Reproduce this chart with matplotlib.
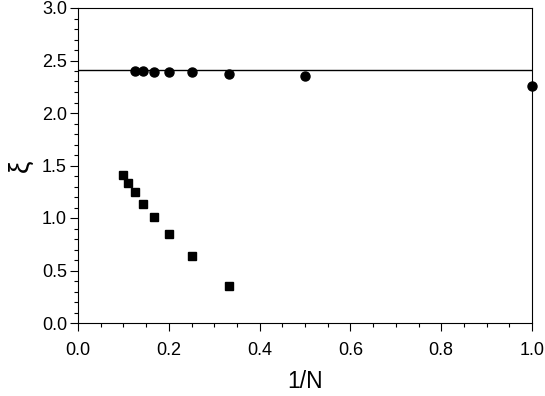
import matplotlib
matplotlib.use("Agg")
import matplotlib.pyplot as plt
from matplotlib.ticker import MultipleLocator

plt.rcParams['font.family'] = ['Liberation Sans', 'DejaVu Sans']

circ_x = [1/1, 1/2, 1/3, 1/4, 1/5, 1/6, 1/7, 1/8]
circ_y = [2.257, 2.357, 2.367, 2.386, 2.39, 2.395, 2.397, 2.40]
sq_x = [1/3, 1/4, 1/5, 1/6, 1/7, 1/8, 1/9, 1/10]
sq_y = [0.352, 0.638, 0.843, 1.01, 1.138, 1.248, 1.333, 1.41]
hline_y = 2.41

fig = plt.figure(figsize=(5.45, 3.96), dpi=100)
ax = fig.add_axes([78/545, 1-323/396, (532-78)/545, (323-8)/396])
ax.axhline(hline_y, color='black', lw=1.0)
ax.plot(circ_x, circ_y, 'o', color='black', ms=6.5, clip_on=False, zorder=3)
ax.plot(sq_x, sq_y, 's', color='black', ms=5.7, clip_on=False, zorder=3)
ax.set_xlim(0, 1.0)
ax.set_ylim(0, 3.0)
ax.xaxis.set_major_locator(MultipleLocator(0.2))
ax.xaxis.set_minor_locator(MultipleLocator(0.05))
ax.yaxis.set_major_locator(MultipleLocator(0.5))
ax.yaxis.set_minor_locator(MultipleLocator(0.1))
ax.xaxis.set_major_formatter(plt.FormatStrFormatter('%.1f'))
ax.yaxis.set_major_formatter(plt.FormatStrFormatter('%.1f'))
ax.tick_params(which='major', direction='out', length=5.5, width=0.8, labelsize=13)
ax.tick_params(axis='x', which='major', pad=8)
ax.tick_params(axis='y', which='major', pad=2.5)
ax.tick_params(which='minor', direction='out', length=3, width=0.8)
for s in ax.spines.values():
    s.set_linewidth(0.8)
ax.set_xlabel('1/N', fontsize=16.5, labelpad=8)
ax.set_ylabel('ξ', fontsize=20, labelpad=6)
fig.savefig('out.png', dpi=100)
